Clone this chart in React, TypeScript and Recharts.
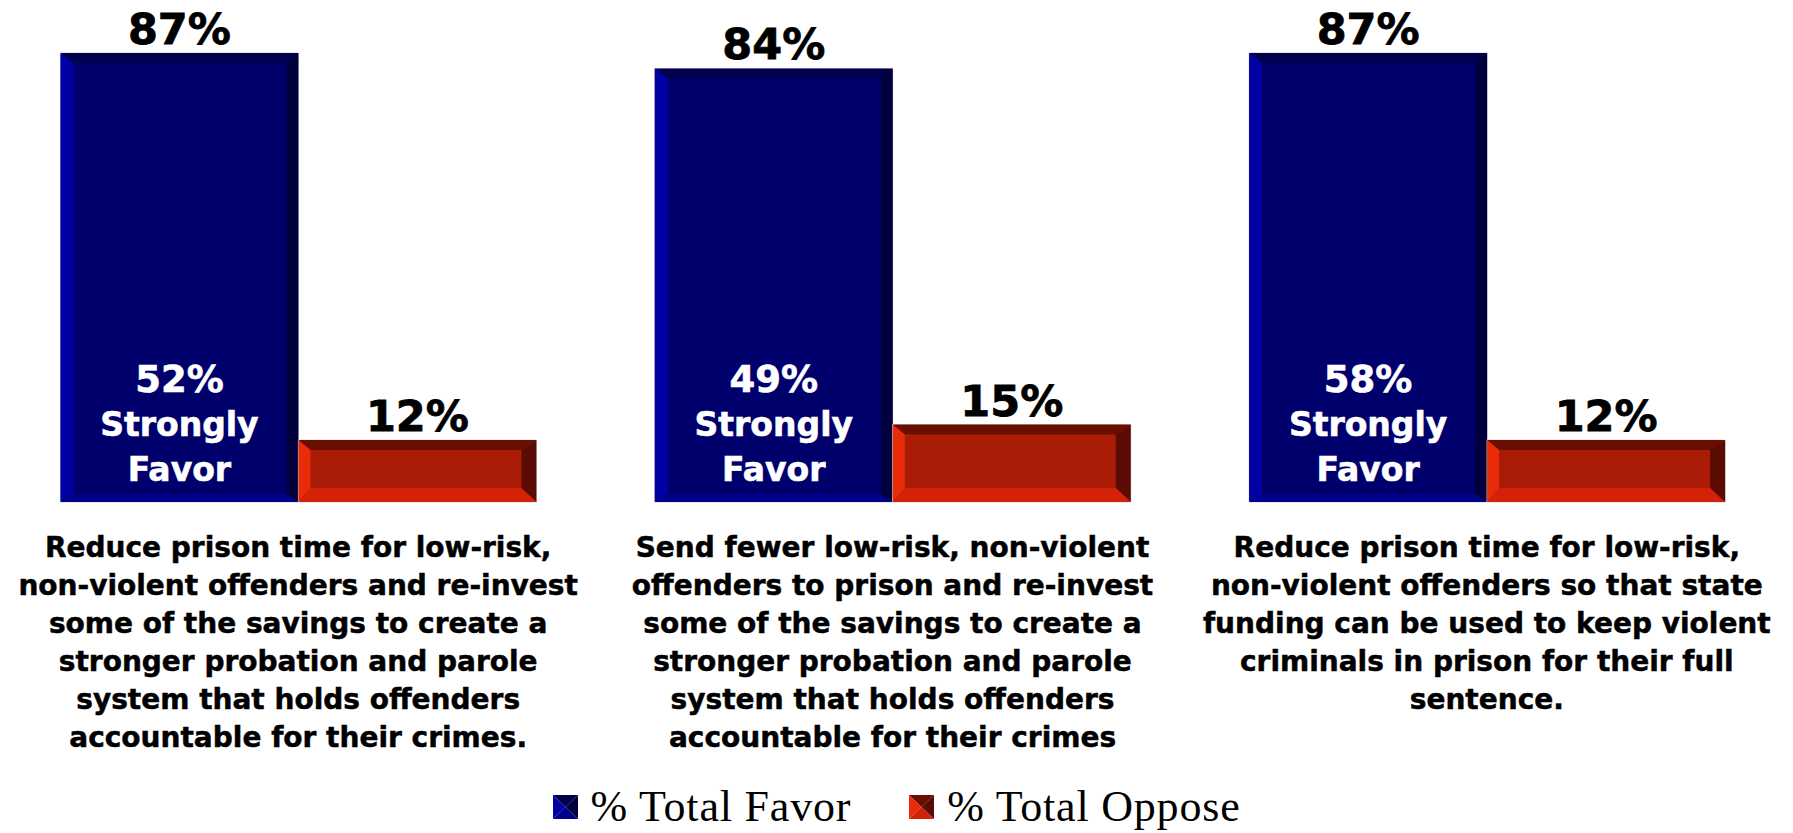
import React from "react";
import { BarChart, Bar, XAxis, YAxis, Legend, LabelList } from "recharts";

const categories = [
  "Reduce prison time for low-risk,\nnon-violent offenders and re-invest\nsome of the savings to create a\nstronger probation and parole\nsystem that holds offenders\naccountable for their crimes.",
  "Send fewer low-risk, non-violent\noffenders to prison and re-invest\nsome of the savings to create a\nstronger probation and parole\nsystem that holds offenders\naccountable for their crimes",
  "Reduce prison time for low-risk,\nnon-violent offenders so that state\nfunding can be used to keep violent\ncriminals in prison for their full\nsentence.",
];
const totalFavor = [87, 84, 87];
const totalOppose = [12, 15, 12];
const stronglyFavor = [52, 49, 58];
const seriesNames = ["% Total Favor", "% Total Oppose"];

const data = categories.map((c, i) => ({
  category: c,
  favor: totalFavor[i],
  oppose: totalOppose[i],
  strongly: stronglyFavor[i],
}));

const SANS = "Tahoma, 'DejaVu Sans', sans-serif";
const SERIF = "'Times New Roman', 'Liberation Serif', serif";

const palettes: Record<string, any> = {
  blue: { main: "#00006C", top: "#00004C", left: "#0000A4", right: "#00003C", bottom: "#00008A" },
  red: { main: "#AA1C06", top: "#6A0E00", left: "#E82C0A", right: "#5A0C04", bottom: "#D42209" },
};

const BevelBar = (pal: any, b: { t: number; l: number; r: number; bo: number }) => (props: any) => {
  const { x, y, width: w, height: h } = props;
  if (w == null || h == null || h <= 0) return null;
  const p = (pts: number[][]) => pts.map((q) => q.join(",")).join(" ");
  return (
    <g>
      <rect x={x} y={y} width={w} height={h} fill={pal.main} stroke="#D4D4DC" strokeWidth={1} />
      <polygon points={p([[x, y], [x + w, y], [x + w - b.r, y + b.t], [x + b.l, y + b.t]])} fill={pal.top} />
      <polygon points={p([[x, y], [x + b.l, y + b.t], [x + b.l, y + h - b.bo], [x, y + h]])} fill={pal.left} />
      <polygon points={p([[x + w, y], [x + w, y + h], [x + w - b.r, y + h - b.bo], [x + w - b.r, y + b.t]])} fill={pal.right} />
      <polygon points={p([[x, y + h], [x + b.l, y + h - b.bo], [x + w - b.r, y + h - b.bo], [x + w, y + h]])} fill={pal.bottom} />
    </g>
  );
};

const blueShape = BevelBar(palettes.blue, { t: 10, l: 13, r: 12, bo: 8 });
const redShape = BevelBar(palettes.red, { t: 10, l: 12, r: 15, bo: 14 });

const TopLabel = (props: any) => {
  const { x, y, width, value } = props;
  return (
    <text x={x + width / 2} y={y - 9} textAnchor="middle" fontFamily={SANS} fontWeight="bold" fontSize={43} fill="#000" stroke="#000" strokeWidth={0.8}>
      {value}%
    </text>
  );
};

const InnerLabel = (props: any) => {
  const { x, y, width, height, value } = props;
  const cx = x + width / 2;
  const base = y + height;
  const lines = [`${value}%`, "Strongly", "Favor"];
  const offs = [110, 66, 21];
  const sizes = [37, 33, 33];
  return (
    <g>
      {lines.map((l, i) => (
        <text key={i} x={cx} y={base - offs[i]} textAnchor="middle" fontFamily={SANS} fontWeight="bold" fontSize={sizes[i]} fill="#fff" stroke="#fff" strokeWidth={0.6}>
          {l}
        </text>
      ))}
    </g>
  );
};

const CategoryTick = (props: any) => {
  const { x, y, payload } = props;
  const lines = String(payload.value).split("\n");
  return (
    <text x={x} y={y + 55} textAnchor="middle" fontFamily={SANS} fontWeight="bold" fontSize={28} fill="#000" stroke="#000" strokeWidth={0.5}>
      {lines.map((l, i) => (
        <tspan key={i} x={x} dy={i === 0 ? 0 : 38}>
          {l}
        </tspan>
      ))}
    </text>
  );
};

const LegendSquare = ({ pal }: { pal: any }) => (
  <svg width={25} height={24} style={{ display: "block" }}>
    <polygon points="0,0 25,0 12.5,12" fill={pal.top} />
    <polygon points="0,0 12.5,12 0,24" fill={pal.left} />
    <polygon points="25,0 25,24 12.5,12" fill={pal.right} />
    <polygon points="0,24 12.5,12 25,24" fill={pal.bottom} />
  </svg>
);

const LegendContent = (props: any) => {
  const { payload } = props;
  return (
    <div style={{ display: "flex", justifyContent: "center", alignItems: "center", height: 40 }}>
      {(payload || []).map((entry: any, i: number) => (
        <div key={i} style={{ display: "flex", alignItems: "center", marginLeft: i === 0 ? 0 : 58 }}>
          <LegendSquare pal={entry.dataKey === "favor" ? palettes.blue : palettes.red} />
          <span style={{ fontFamily: SERIF, fontSize: 44, letterSpacing: 0.8, marginLeft: 13, color: "#000", lineHeight: "40px" }}>
            {entry.value}
          </span>
        </div>
      ))}
    </div>
  );
};

export default function App() {
  return (
    <div style={{ width: 1793, height: 833, background: "#fff" }}>
      <style>{"body{margin:0;background:#fff}"}</style>
      <BarChart
        width={1793}
        height={833}
        data={data}
        margin={{ top: 37.5, right: 9, bottom: 41, left: 1 }}
        barCategoryGap="10%"
        barGap={0}
      >
        <XAxis
          dataKey="category"
          axisLine={false}
          tickLine={false}
          tickSize={0}
          tickMargin={0}
          height={250}
          interval={0}
          tick={<CategoryTick />}
        />
        <YAxis hide domain={[0, 90]} />
        <Legend
          verticalAlign="bottom"
          content={<LegendContent />}
          wrapperStyle={{ position: "absolute", top: 787, left: 0, width: 1793, height: 40 }}
        />
        <Bar dataKey="favor" name={seriesNames[0]} fill="#00006C" shape={blueShape} isAnimationActive={false}>
          <LabelList dataKey="favor" content={<TopLabel />} />
          <LabelList dataKey="strongly" content={<InnerLabel />} />
        </Bar>
        <Bar dataKey="oppose" name={seriesNames[1]} fill="#AA1C06" shape={redShape} isAnimationActive={false}>
          <LabelList dataKey="oppose" content={<TopLabel />} />
        </Bar>
      </BarChart>
    </div>
  );
}
